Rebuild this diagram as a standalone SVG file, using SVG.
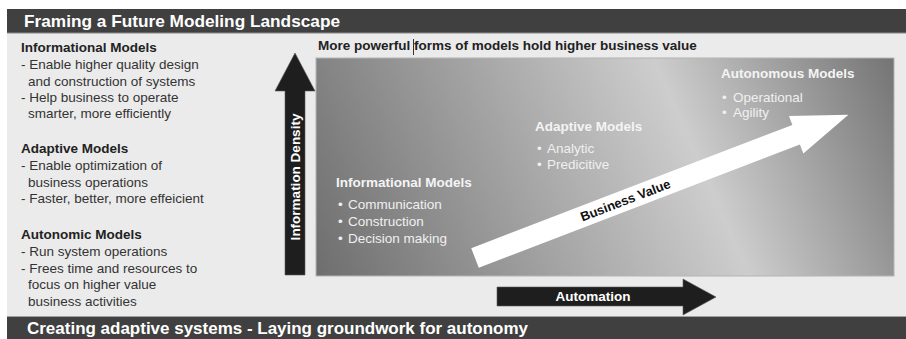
<svg xmlns="http://www.w3.org/2000/svg" width="906" height="339" viewBox="0 0 906 339">
  <defs>
    <linearGradient id="boxGrad" gradientUnits="userSpaceOnUse" x1="345" y1="341" x2="908" y2="91">
      <stop offset="0" stop-color="#6e6e6e"/>
      <stop offset="0.643" stop-color="#cdcdcd"/>
      <stop offset="1" stop-color="#747474"/>
    </linearGradient>
  </defs>
  <style>
    .bar { fill: #404040; }
    .barTitle { font-family: "Liberation Sans", Arial, sans-serif; font-weight: bold; font-size: 17px; fill: #ffffff; }
    .head { font-family: "Liberation Sans", Arial, sans-serif; font-weight: bold; font-size: 13.5px; fill: #222222; }
    .body { font-family: "Liberation Sans", Arial, sans-serif; font-size: 13.5px; fill: #333333; }
    .boxHead { font-family: "Liberation Sans", Arial, sans-serif; font-weight: bold; font-size: 13.5px; fill: #f4f4f4; }
    .boxBody { font-family: "Liberation Sans", Arial, sans-serif; font-size: 13.5px; fill: #f0f0f0; }
    .arrowDark { fill: #1e1e1e; stroke: #5a5a5a; stroke-width: 0.6; }
    .arrowLabel { font-family: "Liberation Sans", Arial, sans-serif; font-weight: bold; font-size: 13.5px; fill: #ffffff; text-anchor: middle; }
    .valueLabel { font-family: "Liberation Sans", Arial, sans-serif; font-weight: bold; font-size: 13px; fill: #111111; text-anchor: middle; }
  </style>

  <rect x="0" y="0" width="906" height="339" fill="#ffffff"/>
  <rect x="7" y="33" width="899" height="283" fill="#ebebeb"/>

  <g id="header">
    <rect class="bar" x="7" y="9" width="899" height="24"/>
    <line x1="7" y1="33" x2="906" y2="33" stroke="#8a8a8a" stroke-width="1"/>
    <text class="barTitle" x="24" y="26.5" textLength="316" lengthAdjust="spacingAndGlyphs">Framing a Future Modeling Landscape</text>
  </g>

  <g id="footer">
    <rect class="bar" x="7" y="316" width="899" height="23"/>
    <line x1="7" y1="316.5" x2="906" y2="316.5" stroke="#a0a0a0" stroke-width="1"/>
    <text class="barTitle" x="27" y="334" textLength="501" lengthAdjust="spacingAndGlyphs">Creating adaptive systems - Laying groundwork for autonomy</text>
  </g>

  <g id="legend-informational">
    <text class="head" x="21" y="52">Informational Models</text>
    <text class="body" x="21" y="69">- Enable higher quality design</text>
    <text class="body" x="28" y="86">and construction of systems</text>
    <text class="body" x="21" y="102">- Help business to operate</text>
    <text class="body" x="28" y="118">smarter, more efficiently</text>
  </g>
  <g id="legend-adaptive">
    <text class="head" x="21" y="153">Adaptive Models</text>
    <text class="body" x="21" y="170">- Enable optimization of</text>
    <text class="body" x="28" y="187">business operations</text>
    <text class="body" x="21" y="203">- Faster, better, more effeicient</text>
  </g>
  <g id="legend-autonomic">
    <text class="head" x="21" y="239">Autonomic Models</text>
    <text class="body" x="21" y="256">- Run system operations</text>
    <text class="body" x="21" y="273">- Frees time and resources to</text>
    <text class="body" x="28" y="289">focus on higher value</text>
    <text class="body" x="28" y="306">business activities</text>
  </g>

  <g id="caption">
    <text class="head" x="318" y="50">More powerful forms of models hold higher business value</text>
    <line x1="413.5" y1="39" x2="413.5" y2="55" stroke="#333333" stroke-width="1"/>
  </g>

  <g id="value-panel">
    <rect x="316" y="58" width="578" height="218" fill="url(#boxGrad)" stroke="#b4b4b4" stroke-width="1"/>
  </g>

  <g id="node-informational">
    <text class="boxHead" x="336" y="187">Informational Models</text>
    <text class="boxBody" y="209"><tspan x="338">•</tspan><tspan x="348">Communication</tspan></text>
    <text class="boxBody" y="226"><tspan x="338">•</tspan><tspan x="348">Construction</tspan></text>
    <text class="boxBody" y="243"><tspan x="338">•</tspan><tspan x="348">Decision making</tspan></text>
  </g>
  <g id="node-adaptive">
    <text class="boxHead" x="535" y="131">Adaptive Models</text>
    <text class="boxBody" y="153"><tspan x="537">•</tspan><tspan x="547">Analytic</tspan></text>
    <text class="boxBody" y="169"><tspan x="537">•</tspan><tspan x="547">Predicitive</tspan></text>
  </g>
  <g id="node-autonomous">
    <text class="boxHead" x="721" y="78">Autonomous Models</text>
    <text class="boxBody" y="102"><tspan x="722">•</tspan><tspan x="733">Operational</tspan></text>
    <text class="boxBody" y="117"><tspan x="722">•</tspan><tspan x="733">Agility</tspan></text>
  </g>

  <g id="connectors">
    <g id="arrow-information-density">
      <polygon class="arrowDark" points="295,53 315,91 305,91 305,275 285,275 285,91 275,91"/>
      <text class="arrowLabel" transform="translate(300,177) rotate(-90)">Information Density</text>
    </g>
    <g id="arrow-automation">
      <polygon class="arrowDark" points="497,287 683,287 683,279 716,297 683,315 683,306 497,306"/>
      <text class="arrowLabel" x="593" y="301">Automation</text>
    </g>
    <g id="arrow-business-value" transform="translate(475,258) rotate(-21)">
      <polygon points="0,-10.5 344,-10.5 344,-20 400,0 344,20 344,10.5 0,10.5" fill="#ffffff"/>
      <text class="valueLabel" x="161" y="4.5">Business Value</text>
    </g>
  </g>
</svg>
